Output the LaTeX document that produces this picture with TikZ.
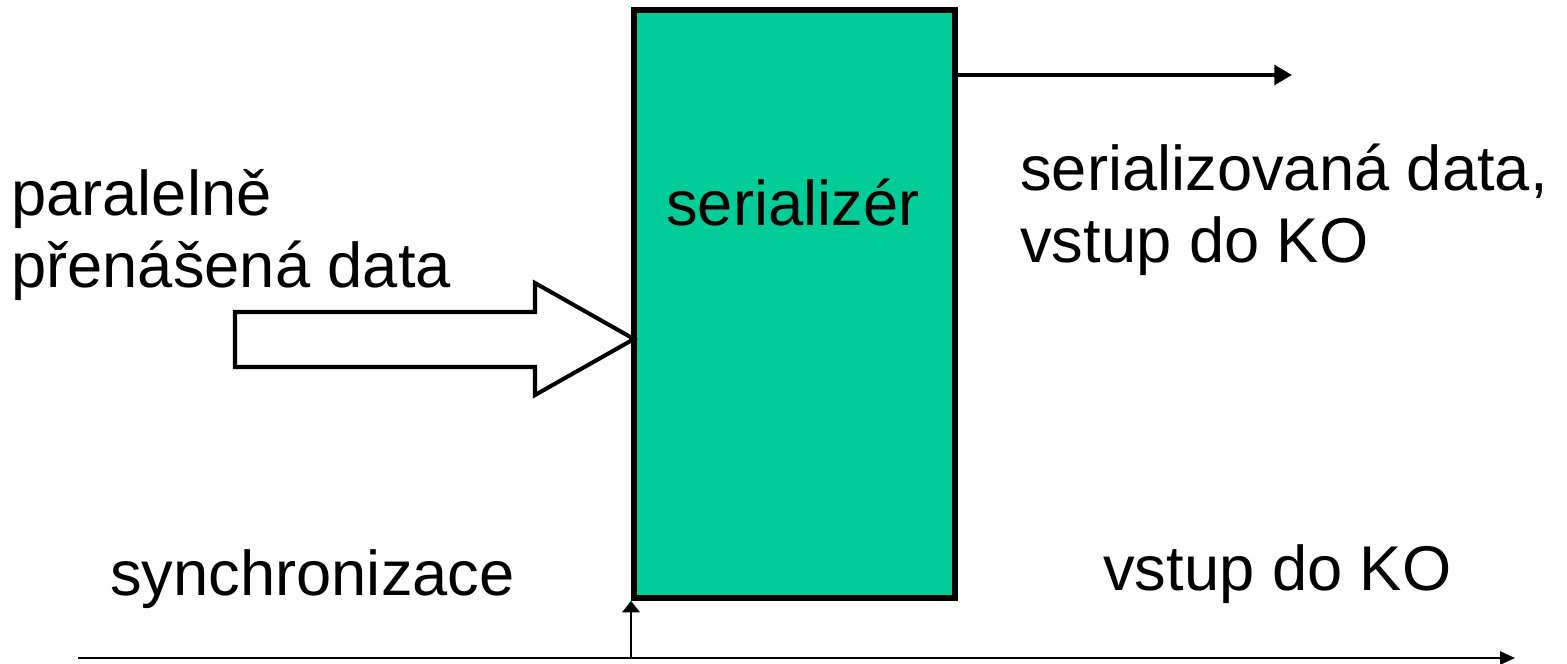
\documentclass[tikz,border=0pt]{standalone}
\usepackage{fontspec}
\setmainfont{Liberation Sans}
\usepackage{tikz}
\usetikzlibrary{arrows.meta}
\definecolor{serfill}{RGB}{0,204,153}

\begin{document}
\begin{tikzpicture}[x=0.02cm,y=-0.02cm,
  txtstyle/.style={anchor=base west,inner sep=0,font=\fontsize{36}{40.8}\selectfont,align=left},
  boxstyle/.style={draw,line width=3.4pt,fill=serfill,minimum width=6.42cm,minimum height=11.76cm,inner sep=0}]
 \useasboundingbox (0,0) rectangle (1567,663);

 \node [boxstyle] (ser) at (794.5,304) {};
 \node [txtstyle] (lblser) at (666,225) {serializér};

 % parallel input (wide arrow)
 \draw [line width=2.3pt,fill=white,line join=miter]
   (235,312) -- (535,312) -- (535,283) -- (634,339) -- (535,395) -- (535,367) -- (235,367) -- cycle;
 \node [txtstyle] (par) at (11,287) {paralelně\\přenášená data};

 % serial output
 \coordinate (outend) at (1292,75);
 \draw [line width=2.4pt,-{Triangle[length=10pt,width=11pt]}] (ser.east |- outend) -- (outend);
 \node [txtstyle] (sout) at (1020,262) {serializovaná data,\\vstup do KO};

 % sync line
 \coordinate (linestart) at (78,658);
 \coordinate (lineend) at (1515,658);
 \draw [line width=1.2pt,-{Triangle[length=8.5pt,width=7.5pt]}] (linestart) -- (lineend);
 \draw [line width=1.2pt,-{Triangle[length=6.5pt,width=10pt]}] (ser.south west |- linestart) -- (ser.south west);
 \node [txtstyle] (sync) at (110,595) {synchronizace};
 \node [txtstyle] (ko) at (1103,590) {vstup do KO};
\end{tikzpicture}
\end{document}
